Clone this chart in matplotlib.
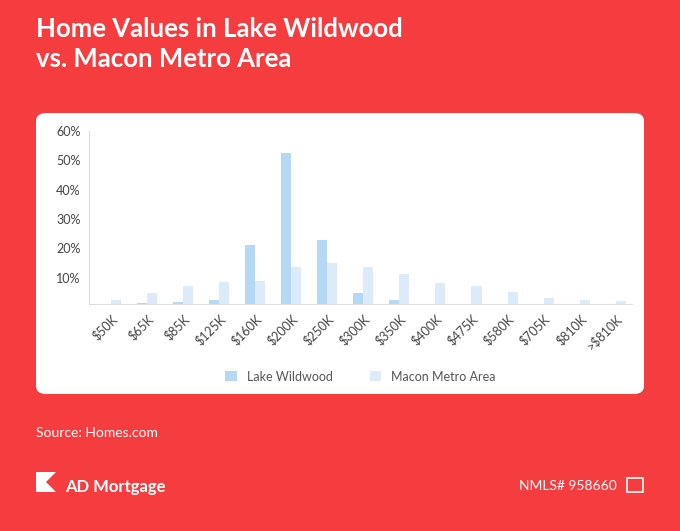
import matplotlib
matplotlib.use("Agg")
import matplotlib.pyplot as plt
from matplotlib.patches import FancyBboxPatch, Polygon
import numpy as np

categories = ["$50K","$65K","$85K","$125K","$160K","$200K","$250K","$300K","$350K","$400K","$475K","$580K","$705K","$810K",">$810K"]
lake = [0, 1.3, 1.6, 2.4, 21.1, 52.5, 22.9, 4.6, 2.2, 0, 0, 0, 0, 0, 0]
macon = [2.4, 4.6, 7.3, 8.6, 8.7, 13.5, 14.9, 13.5, 11.1, 8.1, 7.1, 5.0, 2.9, 2.2, 2.0]
yticks = [10, 20, 30, 40, 50, 60]

W, H = 680, 531
red = "#F53D40"
plt.rcParams['font.family'] = ['Lato', 'DejaVu Sans']
fig = plt.figure(figsize=(W/100, H/100), dpi=100, facecolor=red)

def fx(x): return x / W
def fy(y): return 1 - y / H

fig.patches.append(FancyBboxPatch((fx(36), fy(394)), fx(644)-fx(36), fy(113)-fy(394),
    boxstyle="round,pad=0,rounding_size=0.015", transform=fig.transFigure,
    facecolor="white", edgecolor="none", zorder=0))

fig.text(fx(36), fy(44), "Home Values in Lake Wildwood\nvs. Macon Metro Area", color="white",
         fontsize=18.5, fontweight="bold", va="center", ha="left", linespacing=1.3)

ax = fig.add_axes([fx(89), fy(304), fx(632)-fx(89), fy(131)-fy(304)], zorder=2)
ax.set_facecolor("white")
x = np.arange(len(categories))
w = 0.28
ax.bar(x - w/2, lake, w, color="#B5D8F5", label="Lake Wildwood", zorder=2)
ax.bar(x + w/2, macon, w, color="#DCEBFA", label="Macon Metro Area", zorder=2)
ax.set_ylim(1, 60)
ax.set_xlim(-0.6, len(categories) - 0.55)
ax.set_yticks(yticks)
ax.set_yticklabels([f"{v}%" for v in yticks], fontsize=9, color="#444444")
ax.set_xticks(x)
ax.set_xticklabels(categories, rotation=45, ha="right", rotation_mode="anchor", fontsize=9, color="#444444")
for s in ["top", "right"]:
    ax.spines[s].set_visible(False)
ax.spines["left"].set_color("#dddddd")
ax.spines["bottom"].set_color("#dddddd")
ax.tick_params(length=0, pad=6)
ax.legend(loc="upper center", bbox_to_anchor=(0.5, -0.32), ncol=2, frameon=False,
          fontsize=9, labelcolor="#555555", handlelength=0.9, handleheight=0.9, columnspacing=3)

fig.text(fx(36), fy(433), "Source: Homes.com", color="white", fontsize=10, va="center")
fig.patches.append(Polygon([[fx(36), fy(472)], [fx(56), fy(472)], [fx(46), fy(482)], [fx(56), fy(492)], [fx(36), fy(492)]],
    closed=True, transform=fig.transFigure, facecolor="white", edgecolor="none"))
fig.text(fx(65), fy(487), "AD Mortgage", color="white", fontsize=12, fontweight="bold", va="center")
fig.text(fx(617), fy(486), "NMLS# 958660", color="white", fontsize=10, va="center", ha="right")
fig.patches.append(FancyBboxPatch((fx(627), fy(492)), fx(16), fy(478)-fy(492),
    boxstyle="square,pad=0", transform=fig.transFigure, facecolor="none", edgecolor="white", lw=1.2))

fig.savefig("out.png", dpi=100, facecolor=red)
